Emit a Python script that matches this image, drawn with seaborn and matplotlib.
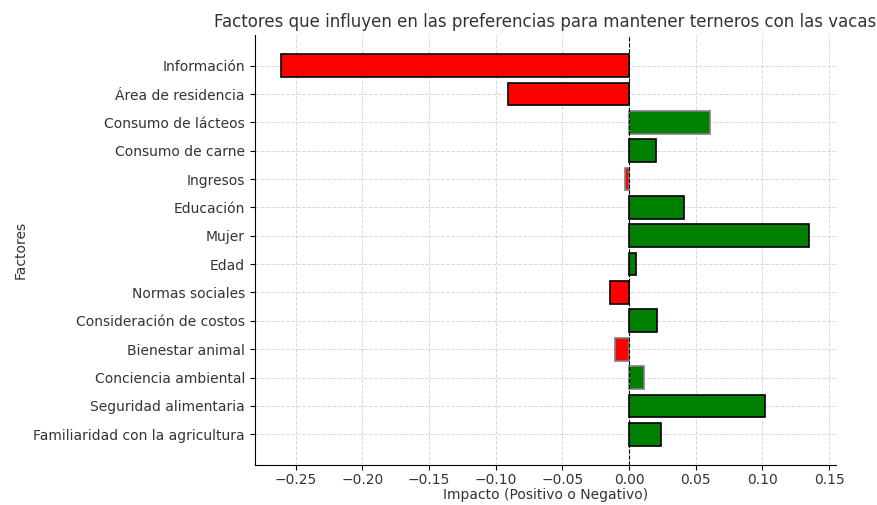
import numpy as np
import pandas as pd
import matplotlib
matplotlib.use("Agg")
import matplotlib.pyplot as plt
import seaborn as sns

# Factores y su impacto
factores = ['Información', 'Área de residencia', 'Consumo de lácteos', 'Consumo de carne',
            'Ingresos', 'Educación', 'Mujer', 'Edad', 'Normas sociales',
            'Consideración de costos', 'Bienestar animal', 'Conciencia ambiental',
            'Seguridad alimentaria', 'Familiaridad con la agricultura']
impacto = [-0.261, -0.091, 0.061, 0.020, -0.003, 0.041, 0.135, 0.005, -0.0145,
           0.021, -0.0105, 0.011, 0.102, 0.024]
# bordes: algunos aparecen grises en la imagen
bordes = ['black', 'black', 'grey', 'black', 'grey', 'black', 'black', 'black', 'black',
          'black', 'grey', 'grey', 'black', 'black']

df = pd.DataFrame({'Factor': factores, 'Impacto': impacto})
df['Signo'] = np.where(df['Impacto'] >= 0, 'pos', 'neg')

plt.rcParams['font.family'] = ['DejaVu Sans']
fig, ax = plt.subplots(figsize=(8.78, 5.05), dpi=100)
fig.subplots_adjust(left=0.29, right=0.952, top=0.931, bottom=0.079)

sns.barplot(data=df, x='Impacto', y='Factor', hue='Signo', orient='h',
            palette={'pos': 'green', 'neg': 'red'}, dodge=False, legend=False,
            saturation=1, width=0.8, edgecolor='black', linewidth=1.2, ax=ax, zorder=3)

# patches vienen agrupados por hue: ordenar por posicion en y
barras = sorted([p for p in ax.patches if p.get_height() > 0], key=lambda p: p.get_y())
for bar, ec in zip(barras, bordes):
    bar.set_edgecolor(ec)

ax.axvline(0, color='black', linestyle='--', linewidth=0.8, zorder=4)

n = len(factores)
pad = 0.05 * (n - 1 + 0.8)
ax.set_ylim(n - 1 + 0.4 + pad, -0.4 - pad)
ax.set_xlim(-0.2807, 0.155)
ax.set_xticks(np.arange(-0.25, 0.151, 0.05))

ax.grid(True, linestyle='--', color='#d8d8d8', linewidth=0.7, zorder=0)
ax.set_axisbelow(True)
ax.spines['top'].set_visible(False)
ax.spines['right'].set_visible(False)

ax.set_title('Factores que influyen en las preferencias para mantener terneros con las vacas',
             fontsize=12, color='#333333')
ax.set_xlabel('Impacto (Positivo o Negativo)', fontsize=10, color='#333333', labelpad=1)
ax.set_ylabel('Factores', fontsize=10, color='#333333')
ax.tick_params(labelsize=10, labelcolor='#333333')
ax.tick_params(axis='x', pad=2)

plt.savefig('out.png', dpi=100)
